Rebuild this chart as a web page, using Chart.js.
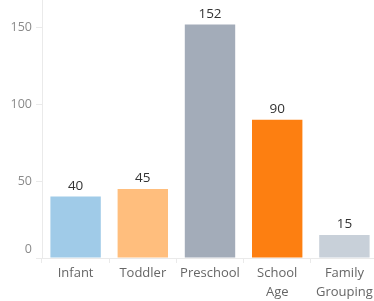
<!DOCTYPE html>
<html>

<head>
    <meta charset="UTF-8">
    <title>Enrolment by Age Group</title>
    <style>
        html, body {
            margin: 0;
            padding: 0;
            background: #fff;
            overflow: hidden;
        }

        .chart-box {
            position: relative;
            width: 378px;
            height: 301px;
        }
    </style>
</head>

<body>
    <div class="chart-box">
        <canvas id="ageChart"></canvas>
    </div>
    <script src="https://cdn.jsdelivr.net/npm/chart.js"></script>
    <script>
        const categories = ["Infant", "Toddler", "Preschool", ["School", "Age"], ["Family", "Grouping"]];
        const counts = [40, 45, 152, 90, 15];
        const barColors = ["#a0cbe8", "#ffbe7d", "#a3acb9", "#fd7f11", "#c8d0d9"];
        const yTicks = [0, 50, 100, 150];

        // value labels above each bar
        const valueLabels = {
            id: "valueLabels",
            afterDatasetsDraw(chart) {
                const ctx = chart.ctx;
                const meta = chart.getDatasetMeta(0);
                ctx.save();
                ctx.font = "13.5px 'Open Sans'";
                ctx.fillStyle = "#333";
                ctx.textAlign = "center";
                ctx.textBaseline = "bottom";
                meta.data.forEach((bar, i) => {
                    ctx.fillText(counts[i], bar.x, bar.y - 4);
                });
                ctx.restore();
            }
        };

        new Chart(document.getElementById("ageChart"), {
            type: "bar",
            data: {
                labels: categories,
                datasets: [{
                    data: counts,
                    backgroundColor: barColors,
                    borderWidth: 0,
                    barPercentage: 0.75,
                    categoryPercentage: 1
                }]
            },
            options: {
                responsive: true,
                maintainAspectRatio: false,
                animation: false,
                layout: { padding: 0 },
                plugins: {
                    legend: { display: false },
                    tooltip: { enabled: false }
                },
                scales: {
                    x: {
                        grid: {
                            drawOnChartArea: false,
                            tickLength: 5,
                            color: "#eaeaea"
                        },
                        border: { color: "#eaeaea" },
                        ticks: {
                            color: "#666",
                            padding: 1,
                            maxRotation: 0,
                            autoSkip: false,
                            font: { family: "'Open Sans'", size: 13, lineHeight: 1.45 }
                        },
                        afterFit(scale) {
                            scale.height = 43;
                        }
                    },
                    y: {
                        min: 0,
                        max: 168,
                        afterBuildTicks(scale) {
                            scale.ticks = yTicks.map((v) => ({ value: v }));
                        },
                        grid: {
                            drawOnChartArea: false,
                            tickLength: 6,
                            color: "#eaeaea"
                        },
                        border: { color: "#eaeaea" },
                        ticks: {
                            color: "#8a8a8a",
                            padding: 4,
                            font: { family: "'Open Sans'", size: 12.5, lineHeight: 1.45 },
                            // the zero label sits a little above its tick
                            callback: (v) => v === 0 ? ["0", ""] : v
                        },
                        afterFit(scale) {
                            scale.width = 42;
                            scale.paddingTop = 0;
                            scale.paddingBottom = 0;
                        }
                    }
                }
            },
            plugins: [valueLabels]
        });
    </script>
</body>

</html>
